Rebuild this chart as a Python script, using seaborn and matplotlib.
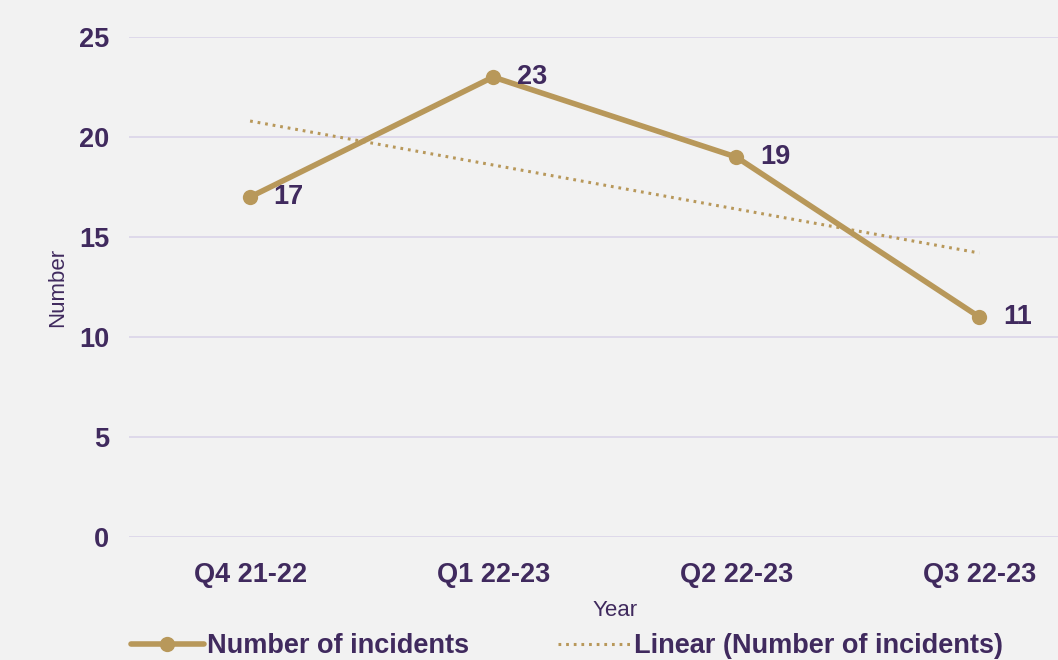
import numpy as np
import pandas as pd
import seaborn as sns
import matplotlib.pyplot as plt

quarters = ['Q4 21-22', 'Q1 22-23', 'Q2 22-23', 'Q3 22-23']
incidents = [17, 23, 19, 11]

gold = '#B8985A'
purple = '#402A5E'
bg = '#F2F2F2'

sns.set_theme(style='white')
plt.rcParams['font.family'] = ['Liberation Sans', 'DejaVu Sans']

df = pd.DataFrame({'Year': quarters, 'Number': incidents})
df['pos'] = range(len(df))

fig = plt.figure(figsize=(10.58, 6.6), dpi=100, facecolor=bg)
ax = fig.add_axes([0.1215, 0.1864, 0.919, 0.7575])
ax.set_facecolor(bg)

# linear trend
coef = np.polyfit(df['pos'], df['Number'], 1)
df['trend'] = np.polyval(coef, df['pos'])

sns.lineplot(data=df, x='pos', y='Number', ax=ax, color=gold, lw=4,
             marker='o', markersize=11, markeredgewidth=0,
             label='Number of incidents')
sns.lineplot(data=df, x='pos', y='trend', ax=ax, color=gold, lw=2.2,
             linestyle=(0, (0.9, 1.6)), label='Linear (Number of incidents)')

for x, y in zip(df['pos'], df['Number']):
    ax.annotate(str(y), (x, y), xytext=(17, 0), textcoords='offset points',
                ha='left', va='center', fontsize=19.5, fontweight='bold', color=purple)

ax.set_xlim(-0.5, 3.5)
ax.set_ylim(0, 25)
ax.set_yticks(range(0, 26, 5))
ax.set_xticks(df['pos'])
ax.set_xticklabels(quarters)
ax.grid(axis='y', color='#DCD7EA', lw=1.3)
ax.grid(axis='x', visible=False)
for s in ax.spines.values():
    s.set_visible(False)
ax.tick_params(length=0, labelsize=19.5, labelcolor=purple)
ax.tick_params(axis='x', pad=18)
ax.tick_params(axis='y', pad=14)
for lbl in ax.get_xticklabels() + ax.get_yticklabels():
    lbl.set_fontweight('bold')
ax.set_xlabel('Year', fontsize=16, color=purple, labelpad=9)
ax.set_ylabel('Number', fontsize=16, color=purple, labelpad=8)

ax.get_legend().remove()
h, l = ax.get_legend_handles_labels()
leg = fig.legend(h, l, loc='lower left', bbox_to_anchor=(0.121, -0.003), ncol=2,
                 frameon=False, handlelength=2.7, columnspacing=3.3,
                 handletextpad=0.1, borderpad=0.1, borderaxespad=0,
                 prop={'size': 19.5, 'weight': 'bold'})
for t in leg.get_texts():
    t.set_color(purple)

fig.savefig('out.png', dpi=100, facecolor=bg)
